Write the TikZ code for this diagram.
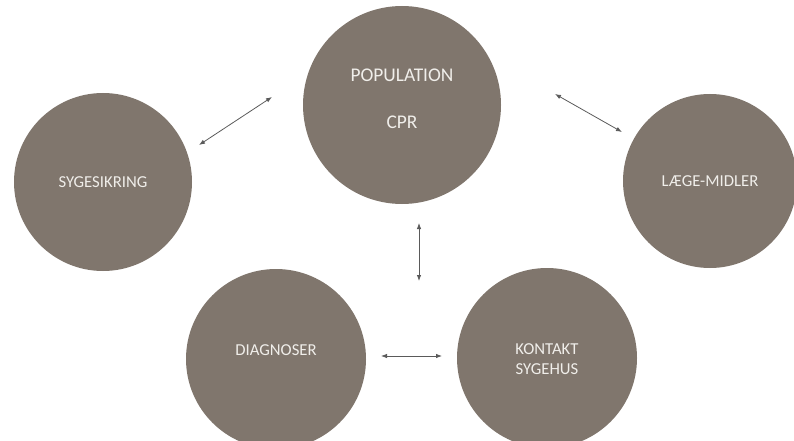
\documentclass[tikz,border=0pt]{standalone}
\usepackage{fontspec}
\setmainfont{Carlito}
\usetikzlibrary{arrows.meta}
\definecolor{disc}{RGB}{128,118,109}
\definecolor{linkgray}{RGB}{90,90,90}
\definecolor{txt}{RGB}{240,238,234}
\begin{document}
\begin{tikzpicture}[x=1pt,y=-1pt,
  disk/.style={circle,fill=disc,draw=none,inner sep=0pt,minimum size=#1,text=txt,align=center,font=\fontsize{16.7}{20}\selectfont},
  lbl/.style={text=txt,align=center,inner sep=0pt,font=\fontsize{16.7}{20}\selectfont},
  link/.style={draw=linkgray,line width=0.8pt,{Latex[length=6pt,width=4.5pt]}-{Latex[length=6pt,width=4.5pt]}}]
\useasboundingbox (0,0) rectangle (794,441);
\node[disk=198pt] (pop) at (402,105) {};
\node[lbl,font=\fontsize{19.4}{22}\selectfont] (poptxt) at (402,75) {POPULATION};
\node[lbl,font=\fontsize{19.4}{22}\selectfont] (cprtxt) at (402,122) {CPR};
\node[disk=178pt] (syg) at (103,182) {SYGESIKRING};
\node[disk=174pt] (laege) at (710,181) {LÆGE-MIDLER};
\node[disk=180pt] (diag) at (276,359) {};
\node[lbl] (diagtxt) at (276,350) {DIAGNOSER};
\node[disk=180pt] (kont) at (547,358) {};
\node[lbl] (konttxt) at (547,359) {KONTAKT\\SYGEHUS};
\coordinate (a1) at (199,145); \coordinate (a2) at (272,97);
\coordinate (b1) at (555,94);  \coordinate (b2) at (622,132);
\coordinate (c1) at (419,223); \coordinate (c2) at (419,281);
\coordinate (d1) at (381,356); \coordinate (d2) at (442,356);
\draw[link] (a1) -- (a2);
\draw[link] (b1) -- (b2);
\draw[link] (c1) -- (c2);
\draw[link] (d1) -- (d2);
\end{tikzpicture}
\end{document}
